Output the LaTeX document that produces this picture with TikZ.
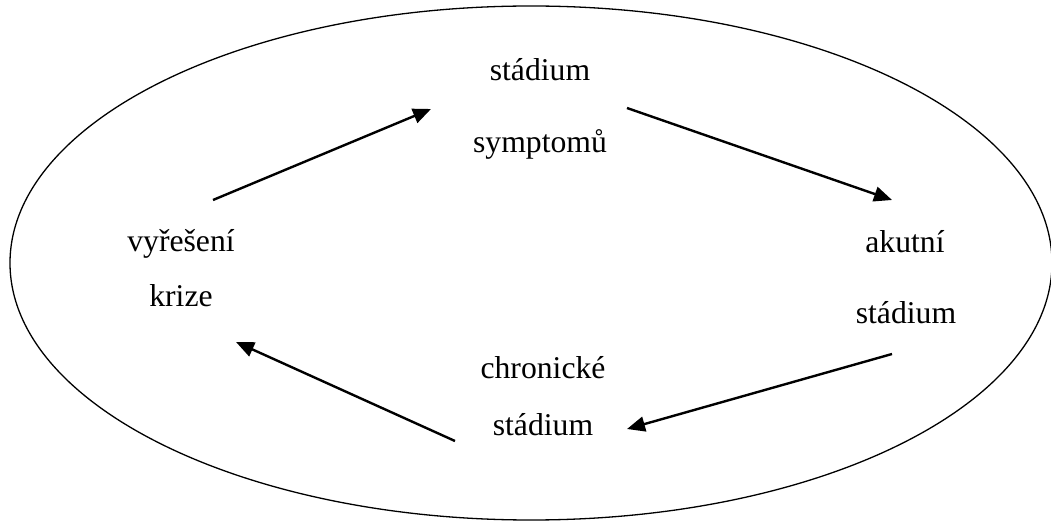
\documentclass[tikz,border=0pt]{standalone}
\usepackage{fontspec}
\setmainfont{Liberation Serif}
\usetikzlibrary{arrows.meta}
\begin{document}
\begin{tikzpicture}[x=1bp,y=-1bp,
  lbl/.style={anchor=base,inner sep=0pt,font=\fontsize{31.8}{38}\selectfont},
  flow/.style={line width=2.4bp,-{Triangle[length=18bp,width=15bp]}}]
\useasboundingbox (0,0) rectangle (1051,525);
% outer cycle boundary
\draw[line width=1.3bp] (531,263) ellipse [x radius=521, y radius=257];
% stage labels
\node[lbl] (s1a) at (540,81) {stádium};
\node[lbl] (s1b) at (540,153) {symptomů};
\node[lbl] (s2a) at (905,253) {akutní};
\node[lbl] (s2b) at (906,324) {stádium};
\node[lbl] (s3a) at (543,379) {chronické};
\node[lbl] (s3b) at (543,435) {stádium};
\node[lbl] (s4a) at (181,252) {vyřešení};
\node[lbl] (s4b) at (181,307) {krize};
% arrow end points between the stages
\coordinate (a1s) at (213,200);
\coordinate (a1e) at (431,109);
\coordinate (a2s) at (627,108);
\coordinate (a2e) at (892,200);
\coordinate (a3s) at (892,354);
\coordinate (a3e) at (627,429);
\coordinate (a4s) at (455,441);
\coordinate (a4e) at (236,342);
\draw[flow] (a1s) -- (a1e);
\draw[flow] (a2s) -- (a2e);
\draw[flow] (a3s) -- (a3e);
\draw[flow] (a4s) -- (a4e);
\end{tikzpicture}
\end{document}
